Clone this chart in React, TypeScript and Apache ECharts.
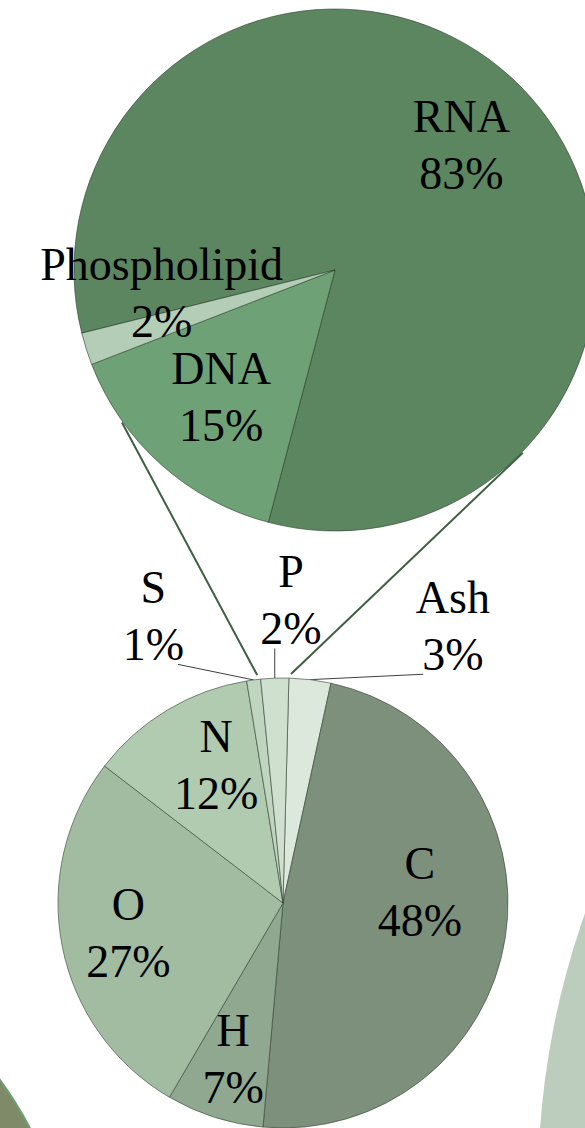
import React, { useEffect, useRef } from 'react';
import * as echarts from 'echarts';

// ---- data ----
const topNames = ['RNA', 'DNA', 'Phospholipid'];
const topValues = [83, 15, 2];
const bottomNames = ['Ash', 'C', 'H', 'O', 'N', 'S', 'P'];
const bottomValues = [3, 48, 7, 27, 12, 1, 2];
const bottomOutside = ['S', 'P', 'Ash'];

// ---- layout / style ----
const W = 585;
const H = 1128;
const TOP = { cx: 335, cy: 270, r: 261, start: 194 };
const BOT = { cx: 283, cy: 903, r: 225, start: 88.5 };
const topColors = ['#5c8660', '#6ea276', '#b4cdb6'];
const bottomColors = ['#dde8dd', '#7d907c', '#8fa88f', '#a2bca2', '#b1cbb1', '#bfd5bf', '#cfe0cf'];
// label placement: radial factor k and optional absolute angle (deg)
const topPlaces = [{ k: 0.68, a: null }, { k: 0.655, a: null }, { k: 0.67, a: 187.6 }];
const bottomPlaces = [
  { k: 1.445, a: 58.5 },
  { k: 0.61, a: 4.6 },
  { k: 0.73, a: null },
  { k: 0.7, a: null },
  { k: 0.68, a: 115.9 },
  { k: 1.4, a: 114.3 },
  { k: 1.347, a: 88.5 },
];
const FONT = 'Liberation Serif';

const rad = (d: number) => (d * Math.PI) / 180;

function midAngle(values: number[], start: number, i: number) {
  const total = values.reduce((s, v) => s + v, 0);
  const before = values.slice(0, i).reduce((s, v) => s + v, 0);
  return start - (360 * (before + values[i] / 2)) / total;
}
function edgeAngle(values: number[], start: number, i: number) {
  const total = values.reduce((s, v) => s + v, 0);
  const before = values.slice(0, i).reduce((s, v) => s + v, 0);
  return start - (360 * before) / total;
}

function makeLayout(values: number[], g: any, places: any[]) {
  return (params: any) => {
    const i = params.dataIndex;
    const mid = midAngle(values, g.start, i);
    const p = places[i];
    const ang = rad(p.a == null ? mid : p.a);
    const x = g.cx + p.k * g.r * Math.cos(ang);
    const y = g.cy - p.k * g.r * Math.sin(ang);
    const res: any = { x, y, align: 'center', verticalAlign: 'middle' };
    if (p.k > 1) {
      const ax = g.cx + g.r * Math.cos(rad(mid));
      const ay = g.cy - g.r * Math.sin(rad(mid));
      const w = params.labelRect.width * 0.8;
      const h = params.labelRect.height * 0.85;
      const nx = Math.min(Math.max(ax, x - w / 2), x + w / 2);
      const ny = Math.min(Math.max(ay, y - h / 2), y + h / 2);
      res.labelLinePoints = [[nx, ny], [ax, ay]];
    }
    return res;
  };
}

export default function App() {
  const ref = useRef<HTMLDivElement>(null);
  useEffect(() => {
    const chart = echarts.init(ref.current!, null, { renderer: 'svg' });

    const labelBase = {
      fontFamily: FONT,
      fontSize: 46,
      lineHeight: 57,
      color: '#000',
      formatter: (p: any) => `${p.name}\n${Math.round(p.percent)}%`,
    };

    const topData = topNames.map((n, i) => ({
      name: n,
      value: topValues[i],
      itemStyle: { color: topColors[i] },
    }));
    const bottomData = bottomNames.map((n, i) => ({
      name: n,
      value: bottomValues[i],
      itemStyle: { color: bottomColors[i] },
      label: { position: bottomOutside.includes(n) ? 'outside' : 'inside' },
      labelLine: { show: bottomOutside.includes(n) },
    }));

    // connector lines from P slice edges to the top pie
    const pIdx = bottomNames.indexOf('P');
    const pStart = edgeAngle(bottomValues, BOT.start, pIdx + 1 >= bottomValues.length ? 0 : pIdx + 1);
    const pA1 = edgeAngle(bottomValues, BOT.start, pIdx); // left edge
    const pA2 = pStart; // right edge
    const rb = BOT.r + 4;
    const topAnglesForLinks = [215.6, 315.8];
    const links = [
      [
        BOT.cx + rb * Math.cos(rad(pA1)) - 3,
        BOT.cy - rb * Math.sin(rad(pA1)),
        TOP.cx + (TOP.r + 1) * Math.cos(rad(topAnglesForLinks[0])),
        TOP.cy - (TOP.r + 1) * Math.sin(rad(topAnglesForLinks[0])),
      ],
      [
        BOT.cx + rb * Math.cos(rad(pA2)) + 2,
        BOT.cy - rb * Math.sin(rad(pA2)),
        TOP.cx + (TOP.r + 1) * Math.cos(rad(topAnglesForLinks[1])),
        TOP.cy - (TOP.r + 1) * Math.sin(rad(topAnglesForLinks[1])),
      ],
    ];

    chart.setOption({
      animation: false,
      backgroundColor: '#ffffff',
      graphic: [
        {
          type: 'circle',
          shape: { cx: 1352, cy: 1186, r: 814 },
          style: { fill: '#bccdbe' },
          z: -1,
        },
        {
          type: 'circle',
          shape: { cx: -300, cy: 1300, r: 372 },
          style: { fill: '#7f8a68', stroke: '#6fa075', lineWidth: 2 },
          z: -1,
        },
        ...links.map((l) => ({
          type: 'line',
          shape: { x1: l[0], y1: l[1], x2: l[2], y2: l[3] },
          style: { stroke: '#3f5f42', lineWidth: 2 },
          z: 10,
        })),
      ],
      series: [
        {
          type: 'pie',
          silent: true,
          center: [TOP.cx, TOP.cy],
          radius: [0, TOP.r],
          startAngle: TOP.start,
          clockwise: true,
          avoidLabelOverlap: false,
          itemStyle: { borderColor: 'rgba(40,60,40,0.75)', borderWidth: 0.8 },
          label: { ...labelBase, position: 'inside' },
          labelLine: { show: false },
          labelLayout: makeLayout(topValues, TOP, topPlaces),
          emphasis: { disabled: true },
          data: topData,
        },
        {
          type: 'pie',
          silent: true,
          center: [BOT.cx, BOT.cy],
          radius: [0, BOT.r],
          startAngle: BOT.start,
          clockwise: true,
          avoidLabelOverlap: false,
          itemStyle: { borderColor: 'rgba(50,65,50,0.75)', borderWidth: 0.8 },
          label: { ...labelBase },
          labelLine: { lineStyle: { color: '#404040', width: 1 }, length: 20, length2: 20 },
          labelLayout: makeLayout(bottomValues, BOT, bottomPlaces),
          emphasis: { disabled: true },
          data: bottomData,
        },
      ],
    });
    return () => chart.dispose();
  }, []);
  return (
    <div
      ref={ref}
      style={{ position: 'absolute', left: 0, top: 0, width: W, height: H, background: '#fff' }}
    />
  );
}
